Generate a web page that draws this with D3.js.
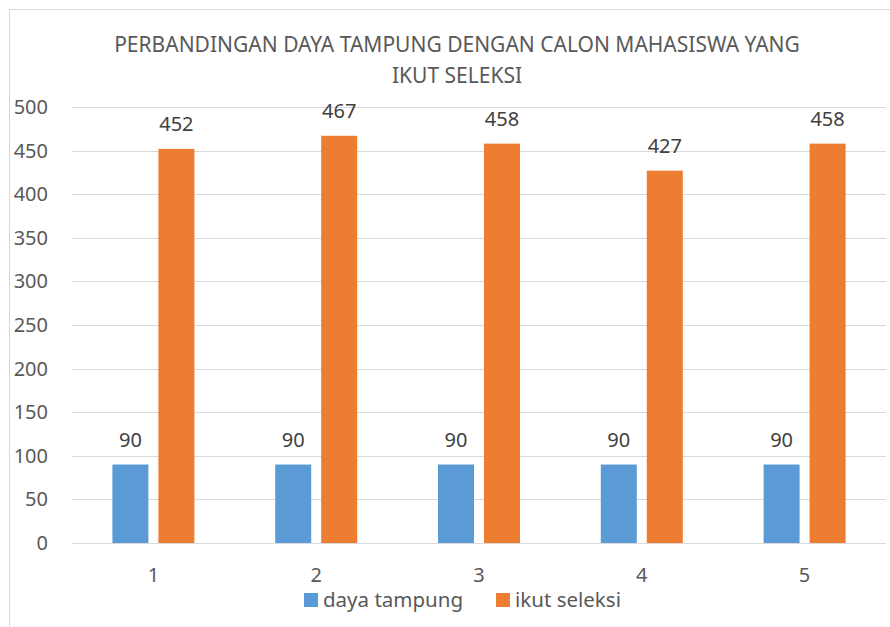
<!DOCTYPE html>
<html>
<head>
<meta charset="utf-8">
<script src="https://cdn.jsdelivr.net/npm/d3@7"></script>
<style>
  body { margin: 0; background: #fff; }
  text { font-family: "Noto Sans", Lato, sans-serif; }
</style>
</head>
<body>
<div id="chart"></div>
<script>
const categories = ["1", "2", "3", "4", "5"];
const seriesNames = ["daya tampung", "ikut seleksi"];
const dayaTampung = [90, 90, 90, 90, 90];
const ikutSeleksi = [452, 467, 458, 427, 458];
const yTicks = [0, 50, 100, 150, 200, 250, 300, 350, 400, 450, 500];
const titleLines = ["PERBANDINGAN DAYA TAMPUNG DENGAN CALON MAHASISWA YANG", "IKUT SELEKSI"];

const colors = { "daya tampung": "#5b9bd5", "ikut seleksi": "#ed7d31" };

const W = 890, H = 627;
const plot = { left: 72, right: 886, top: 107, bottom: 543 };

const svg = d3.select("#chart").append("svg")
    .attr("width", W)
    .attr("height", H);

// chart frame (runs off the bottom/right of the picture)
svg.append("rect")
  .attr("x", 9.5).attr("y", 9.5)
  .attr("width", 900).attr("height", 640)
  .attr("fill", "#fff")
  .attr("stroke", "#d9d9d9");

const y = d3.scaleLinear().domain([0, 500]).range([plot.bottom, plot.top]);
const x0 = d3.scaleBand().domain(categories).range([plot.left, plot.right]);
const groupW = 82;
const x1 = d3.scaleBand().domain(seriesNames)
  .range([x0.bandwidth() / 2 - groupW / 2, x0.bandwidth() / 2 + groupW / 2])
  .paddingInner(10 / 46);

// gridlines
svg.append("g").selectAll("line")
  .data(yTicks)
  .join("line")
  .attr("x1", plot.left).attr("x2", plot.right)
  .attr("y1", d => Math.round(y(d)) + 0.5)
  .attr("y2", d => Math.round(y(d)) + 0.5)
  .attr("stroke", "#d9d9d9")
  .attr("stroke-width", 1);

// y tick labels
svg.append("g").selectAll("text")
  .data(yTicks)
  .join("text")
  .attr("x", 48)
  .attr("y", d => y(d) + 7)
  .attr("text-anchor", "end")
  .attr("font-size", 20)
  .attr("fill", "#595959")
  .text(d => d);

// bars
const rows = categories.map((c, i) => ({
  cat: c,
  values: [
    { key: "daya tampung", value: dayaTampung[i] },
    { key: "ikut seleksi", value: ikutSeleksi[i] }
  ]
}));

const groups = svg.append("g").selectAll("g")
  .data(rows)
  .join("g")
  .attr("transform", d => `translate(${x0(d.cat)},0)`);

groups.selectAll("rect")
  .data(d => d.values)
  .join("rect")
  .attr("x", d => x1(d.key))
  .attr("width", x1.bandwidth())
  .attr("y", d => y(d.value))
  .attr("height", d => y(0) - y(d.value))
  .attr("fill", d => colors[d.key]);

// data labels
groups.selectAll("text")
  .data(d => d.values)
  .join("text")
  .attr("x", d => x1(d.key) + x1.bandwidth() / 2)
  .attr("y", d => y(d.value) - 18)
  .attr("text-anchor", "middle")
  .attr("font-size", 20)
  .attr("fill", "#404040")
  .text(d => d.value);

// x labels
svg.append("g").selectAll("text")
  .data(categories)
  .join("text")
  .attr("x", d => x0(d) + x0.bandwidth() / 2)
  .attr("y", 582)
  .attr("text-anchor", "middle")
  .attr("font-size", 20)
  .attr("fill", "#595959")
  .text(d => d);

// title
svg.append("g").selectAll("text")
  .data(titleLines)
  .join("text")
  .attr("x", 457)
  .attr("y", (d, i) => 52 + i * 31)
  .attr("text-anchor", "middle")
  .attr("font-size", 21)
  .attr("fill", "#595959")
  .text(d => d);

// legend
const legendX = [304, 496];
const legend = svg.append("g").selectAll("g")
  .data(seriesNames)
  .join("g")
  .attr("transform", (d, i) => `translate(${legendX[i]},593)`);

legend.append("rect")
  .attr("width", 14).attr("height", 14)
  .attr("fill", d => colors[d]);

legend.append("text")
  .attr("x", 19)
  .attr("y", 13.5)
  .attr("font-size", 20.5)
  .attr("fill", "#595959")
  .text(d => d);
</script>
</body>
</html>
